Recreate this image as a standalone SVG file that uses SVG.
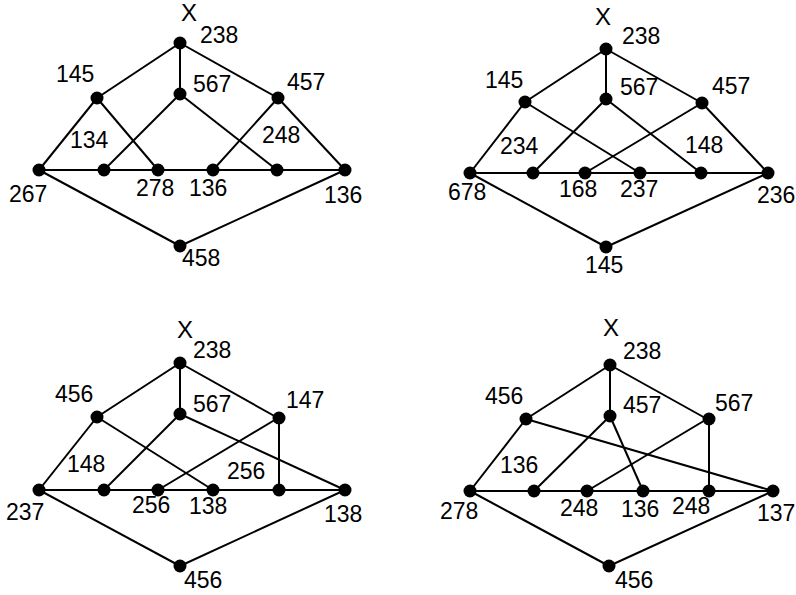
<svg xmlns="http://www.w3.org/2000/svg" width="796" height="595" viewBox="0 0 796 595">
<style>
text{font-family:"Liberation Sans",Arial,sans-serif;font-size:23px;fill:#000}
text.x{font-size:24px}
.e line{stroke:#000;stroke-width:2}
circle{fill:#000}
</style>
<rect width="796" height="595" fill="#fff"/>
<!-- Diagram 1 -->
<g id="d1">
<g class="e" id="d1-edges">
<line x1="180" y1="43" x2="97" y2="98"/><line x1="180" y1="43" x2="180" y2="94"/><line x1="180" y1="43" x2="278" y2="98"/>
<line x1="97" y1="98" x2="39" y2="170"/><line x1="97" y1="98" x2="158" y2="170"/>
<line x1="180" y1="94" x2="104" y2="170"/><line x1="180" y1="94" x2="277" y2="170"/>
<line x1="278" y1="98" x2="213" y2="170"/><line x1="278" y1="98" x2="345" y2="170"/>
<line x1="39" y1="170" x2="345" y2="170"/>
<line x1="39" y1="170" x2="180" y2="246"/><line x1="345" y1="170" x2="180" y2="246"/>
</g>
<g id="d1-n0"><circle cx="180" cy="43" r="6.5"/><text class="x" x="181" y="21">X</text><text x="200" y="43">238</text></g>
<g id="d1-n1"><circle cx="97" cy="98" r="6.5"/><text x="56" y="82">145</text></g>
<g id="d1-n2"><circle cx="180" cy="94" r="6.5"/><text x="193" y="92">567</text></g>
<g id="d1-n3"><circle cx="278" cy="98" r="6.5"/><text x="287" y="90">457</text></g>
<g id="d1-n4"><circle cx="39" cy="170" r="6.5"/><text x="9" y="202">267</text></g>
<g id="d1-n5"><circle cx="104" cy="170" r="6.5"/><text x="70" y="148">134</text></g>
<g id="d1-n6"><circle cx="158" cy="170" r="6.5"/><text x="136" y="196">278</text></g>
<g id="d1-n7"><circle cx="213" cy="170" r="6.5"/><text x="189" y="196">136</text></g>
<g id="d1-n8"><circle cx="277" cy="170" r="6.5"/><text x="262" y="143">248</text></g>
<g id="d1-n9"><circle cx="345" cy="170" r="6.5"/><text x="324" y="203">136</text></g>
<g id="d1-n10"><circle cx="180" cy="246" r="6.5"/><text x="182" y="266">458</text></g>
</g>
<!-- Diagram 2 -->
<g id="d2">
<g class="e" id="d2-edges">
<line x1="606" y1="49" x2="525" y2="102"/><line x1="606" y1="49" x2="606" y2="99"/><line x1="606" y1="49" x2="702" y2="103"/>
<line x1="525" y1="102" x2="470" y2="173"/><line x1="525" y1="102" x2="640" y2="173"/>
<line x1="606" y1="99" x2="533" y2="173"/><line x1="606" y1="99" x2="701" y2="173"/>
<line x1="702" y1="103" x2="585" y2="173"/><line x1="702" y1="103" x2="768" y2="173"/>
<line x1="470" y1="173" x2="768" y2="173"/>
<line x1="470" y1="173" x2="606" y2="247"/><line x1="768" y1="173" x2="606" y2="247"/>
</g>
<g id="d2-n0"><circle cx="606" cy="49" r="6.5"/><text class="x" x="595" y="25">X</text><text x="622" y="44">238</text></g>
<g id="d2-n1"><circle cx="525" cy="102" r="6.5"/><text x="485" y="88">145</text></g>
<g id="d2-n2"><circle cx="606" cy="99" r="6.5"/><text x="620" y="95">567</text></g>
<g id="d2-n3"><circle cx="702" cy="103" r="6.5"/><text x="712" y="94">457</text></g>
<g id="d2-n4"><circle cx="470" cy="173" r="6.5"/><text x="448" y="200">678</text></g>
<g id="d2-n5"><circle cx="533" cy="173" r="6.5"/><text x="500" y="154">234</text></g>
<g id="d2-n6"><circle cx="585" cy="173" r="6.5"/><text x="559" y="197">168</text></g>
<g id="d2-n7"><circle cx="640" cy="173" r="6.5"/><text x="620" y="197">237</text></g>
<g id="d2-n8"><circle cx="701" cy="173" r="6.5"/><text x="685" y="153">148</text></g>
<g id="d2-n9"><circle cx="768" cy="173" r="6.5"/><text x="757" y="203">236</text></g>
<g id="d2-n10"><circle cx="606" cy="247" r="6.5"/><text x="585" y="273">145</text></g>
</g>
<!-- Diagram 3 -->
<g id="d3">
<g class="e" id="d3-edges">
<line x1="180" y1="363" x2="97" y2="417"/><line x1="180" y1="363" x2="180" y2="414"/><line x1="180" y1="363" x2="278" y2="418"/>
<line x1="97" y1="417" x2="39" y2="490"/><line x1="97" y1="417" x2="213" y2="490"/>
<line x1="180" y1="414" x2="104" y2="490"/><line x1="180" y1="414" x2="345" y2="490"/>
<line x1="278" y1="418" x2="158" y2="490"/><line x1="279" y1="418" x2="279" y2="490"/>
<line x1="39" y1="490" x2="345" y2="490"/>
<line x1="39" y1="490" x2="180" y2="566"/><line x1="345" y1="490" x2="180" y2="566"/>
</g>
<g id="d3-n0"><circle cx="180" cy="363" r="6.5"/><text class="x" x="177" y="338">X</text><text x="193" y="358">238</text></g>
<g id="d3-n1"><circle cx="97" cy="417" r="6.5"/><text x="55" y="402">456</text></g>
<g id="d3-n2"><circle cx="180" cy="414" r="6.5"/><text x="193" y="412">567</text></g>
<g id="d3-n3"><circle cx="279" cy="418" r="6.5"/><text x="286" y="408">147</text></g>
<g id="d3-n4"><circle cx="39" cy="490" r="6.5"/><text x="6" y="520">237</text></g>
<g id="d3-n5"><circle cx="104" cy="490" r="6.5"/><text x="67" y="472">148</text></g>
<g id="d3-n6"><circle cx="158" cy="490" r="6.5"/><text x="132" y="513">256</text></g>
<g id="d3-n7"><circle cx="213" cy="490" r="6.5"/><text x="189" y="514">138</text></g>
<g id="d3-n8"><circle cx="279" cy="490" r="6.5"/><text x="227" y="479">256</text></g>
<g id="d3-n9"><circle cx="345" cy="490" r="6.5"/><text x="324" y="522">138</text></g>
<g id="d3-n10"><circle cx="180" cy="566" r="6.5"/><text x="184" y="588">456</text></g>
</g>
<!-- Diagram 4 -->
<g id="d4">
<g class="e" id="d4-edges">
<line x1="610" y1="365" x2="526" y2="419"/><line x1="610" y1="365" x2="610" y2="416"/><line x1="610" y1="365" x2="707" y2="419"/>
<line x1="526" y1="419" x2="470" y2="491"/><line x1="526" y1="419" x2="773" y2="491"/>
<line x1="610" y1="416" x2="534" y2="491"/><line x1="610" y1="416" x2="643" y2="491"/>
<line x1="707" y1="419" x2="587" y2="491"/><line x1="709" y1="419" x2="709" y2="491"/>
<line x1="470" y1="491" x2="773" y2="491"/>
<line x1="470" y1="491" x2="609" y2="566"/><line x1="773" y1="491" x2="609" y2="566"/>
</g>
<g id="d4-n0"><circle cx="610" cy="365" r="6.5"/><text class="x" x="603" y="336">X</text><text x="623" y="359">238</text></g>
<g id="d4-n1"><circle cx="526" cy="419" r="6.5"/><text x="485" y="404">456</text></g>
<g id="d4-n2"><circle cx="610" cy="416" r="6.5"/><text x="623" y="413">457</text></g>
<g id="d4-n3"><circle cx="709" cy="419" r="6.5"/><text x="715" y="411">567</text></g>
<g id="d4-n4"><circle cx="470" cy="491" r="6.5"/><text x="440" y="519">278</text></g>
<g id="d4-n5"><circle cx="534" cy="491" r="6.5"/><text x="500" y="473">136</text></g>
<g id="d4-n6"><circle cx="587" cy="491" r="6.5"/><text x="560" y="516">248</text></g>
<g id="d4-n7"><circle cx="643" cy="491" r="6.5"/><text x="621" y="517">136</text></g>
<g id="d4-n8"><circle cx="709" cy="491" r="6.5"/><text x="672" y="514">248</text></g>
<g id="d4-n9"><circle cx="773" cy="491" r="6.5"/><text x="757" y="521">137</text></g>
<g id="d4-n10"><circle cx="609" cy="566" r="6.5"/><text x="615" y="588">456</text></g>
</g>
</svg>
